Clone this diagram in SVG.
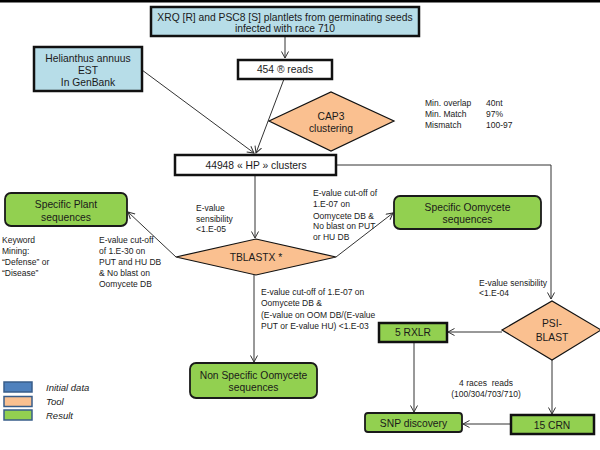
<svg xmlns="http://www.w3.org/2000/svg" width="600" height="450" viewBox="0 0 600 450">
<defs>
<marker id="arr" markerWidth="10" markerHeight="10" refX="7" refY="4" orient="auto" markerUnits="userSpaceOnUse">
<path d="M0.5,0.5 L7,4 L0.5,7.5" fill="none" stroke="#333" stroke-width="1"/>
</marker>
<style>
.lab{font-family:"Liberation Sans",Arial,sans-serif;font-size:10.3px;fill:#1a1a1a;text-anchor:middle}
.sm{font-family:"Liberation Sans",Arial,sans-serif;font-size:8.5px;fill:#1a1a1a}
.lg{font-family:"Liberation Sans",Arial,sans-serif;font-size:9.5px;font-style:italic;fill:#1a1a1a}
.blue{fill:#b7dde8;stroke:#111;stroke-width:2.5}
.white{fill:#fff;stroke:#111;stroke-width:2.5}
.tool{fill:#fac090;stroke:#111;stroke-width:1.2}
.res{fill:#92d050;stroke:#1a1a1a;stroke-width:1.8}
.resb{fill:#92d050;stroke:#111;stroke-width:2.5}
.ln{fill:none;stroke:#333;stroke-width:1}
</style>
</defs>
<rect x="0" y="0" width="600" height="2.5" fill="#000"/>

<g id="connectors">
<path class="ln" d="M285,37 L285,58" marker-end="url(#arr)"/>
<path class="ln" d="M142,70 L254,153" marker-end="url(#arr)"/>
<path class="ln" d="M284,79 L256,153" marker-end="url(#arr)"/>
<path class="ln" d="M255,176 L255,238" marker-end="url(#arr)"/>
<path class="ln" d="M336,165 L551,165 L551,299" marker-end="url(#arr)"/>
<path class="ln" d="M176,257 L128,212" marker-end="url(#arr)"/>
<path class="ln" d="M336,257 L393,213" marker-end="url(#arr)"/>
<path class="ln" d="M254,275 L254,362" marker-end="url(#arr)"/>
<path class="ln" d="M502,332 L448,332" marker-end="url(#arr)"/>
<path class="ln" d="M414,343 L414,412" marker-end="url(#arr)"/>
<path class="ln" d="M552,360 L552,414" marker-end="url(#arr)"/>
<path class="ln" d="M510,424 L463,424" marker-end="url(#arr)"/>
</g>

<g id="xrq">
<rect class="blue" x="151" y="7" width="268" height="29"/>
<text class="lab" x="285" y="20.5">XRQ [R] and PSC8 [S] plantlets from germinating seeds</text>
<text class="lab" x="285" y="32">infected with race 710</text>
</g>
<g id="helianthus">
<rect class="blue" x="34" y="47" width="108" height="44"/>
<text class="lab" x="88" y="61.7">Helianthus annuus</text>
<text class="lab" x="88" y="73.7">EST</text>
<text class="lab" x="88" y="85.7">In GenBank</text>
</g>
<g id="reads">
<rect class="white" x="238" y="60" width="94" height="19"/>
<text class="lab" x="285" y="73">454 ® reads</text>
</g>
<g id="cap3">
<polygon class="tool" points="269,121 331,92 394,121 331,151"/>
<text class="lab" x="331" y="119.7">CAP3</text>
<text class="lab" x="331" y="131.7">clustering</text>
</g>
<g id="params">
<text class="sm" x="425" y="106">Min. overlap</text>
<text class="sm" x="486" y="106">40nt</text>
<text class="sm" x="425" y="117">Min. Match</text>
<text class="sm" x="486" y="117">97%</text>
<text class="sm" x="425" y="128">Mismatch</text>
<text class="sm" x="486" y="128">100-97</text>
</g>
<g id="clusters">
<rect class="white" x="175" y="155" width="161" height="20"/>
<text class="lab" x="256" y="169.4">44948 « HP » clusters</text>
</g>
<g id="tblastx">
<polygon class="tool" points="176,257 256,239 336,257 256,275"/>
<text class="lab" x="256" y="260.7">TBLASTX *</text>
</g>
<g id="plant">
<rect class="res" x="5" y="193" width="122" height="33" rx="6"/>
<text class="lab" x="66" y="207.7">Specific Plant</text>
<text class="lab" x="66" y="220.7">sequences</text>
</g>
<g id="oomycete">
<rect class="res" x="394" y="196" width="147" height="33" rx="6"/>
<text class="lab" x="467.5" y="210.7">Specific Oomycete</text>
<text class="lab" x="467.5" y="222.7">sequences</text>
</g>
<g id="nonspecific">
<rect class="res" x="190" y="363" width="127" height="35" rx="6"/>
<text class="lab" x="253.5" y="378.7">Non Specific Oomycete</text>
<text class="lab" x="253.5" y="390.7">sequences</text>
</g>
<g id="psiblast">
<polygon class="tool" points="502,330 552,301 601,330 552,360"/>
<text class="lab" x="552" y="326.7">PSI-</text>
<text class="lab" x="552" y="340.7">BLAST</text>
</g>
<g id="rxlr">
<rect class="resb" x="379" y="323" width="68" height="19"/>
<text class="lab" x="413" y="335.7">5 RXLR</text>
</g>
<g id="snp">
<rect class="res" x="365" y="413" width="97" height="19" rx="3"/>
<text class="lab" x="413.5" y="426.7">SNP discovery</text>
</g>
<g id="crn">
<rect class="resb" x="511" y="415" width="83" height="19"/>
<text class="lab" x="552" y="428.7">15 CRN</text>
</g>

<g id="annotations">
<text class="sm" x="196" y="211">E-value</text>
<text class="sm" x="196" y="222">sensibility</text>
<text class="sm" x="196" y="232">&lt;1.E-05</text>

<text class="sm" x="313" y="196">E-value cut-off of</text>
<text class="sm" x="313" y="207">1.E-07 on</text>
<text class="sm" x="313" y="219">Oomycete DB &amp;</text>
<text class="sm" x="313" y="229">No blast on PUT</text>
<text class="sm" x="313" y="240">or HU DB</text>

<text class="sm" x="2" y="243">Keyword</text>
<text class="sm" x="2" y="254">Mining:</text>
<text class="sm" x="2" y="265">“Defense” or</text>
<text class="sm" x="2" y="276">“Disease”</text>

<text class="sm" x="99" y="243">E-value cut-off</text>
<text class="sm" x="99" y="254">of 1.E-30 on</text>
<text class="sm" x="99" y="265">PUT and HU DB</text>
<text class="sm" x="99" y="276">&amp; No blast on</text>
<text class="sm" x="99" y="287">Oomycete DB</text>

<text class="sm" x="261" y="295">E-value cut-off of 1.E-07 on</text>
<text class="sm" x="261" y="306">Oomycete DB &amp;</text>
<text class="sm" x="261" y="318">(E-value on OOM DB/(E-value</text>
<text class="sm" x="261" y="329">PUT or E-value HU) &lt;1.E-03</text>

<text class="sm" x="479" y="286">E-value sensibility</text>
<text class="sm" x="479" y="296">&lt;1.E-04</text>

<text class="sm" x="486" y="386" text-anchor="middle" style="white-space:pre">4 races  reads</text>
<text class="sm" x="486" y="397" text-anchor="middle">(100/304/703/710)</text>
</g>

<g id="legend">
<rect x="4" y="382" width="28" height="10" fill="#4f81bd" stroke="#385d8a" stroke-width="1.5"/>
<text class="lg" x="46" y="391">Initial data</text>
<rect x="4" y="396.5" width="28" height="10" fill="#fac090" stroke="#385d8a" stroke-width="1.5"/>
<text class="lg" x="46" y="405">Tool</text>
<rect x="4" y="410" width="28" height="10" fill="#92d050" stroke="#385d8a" stroke-width="1.5"/>
<text class="lg" x="46" y="419">Result</text>
</g>
</svg>
